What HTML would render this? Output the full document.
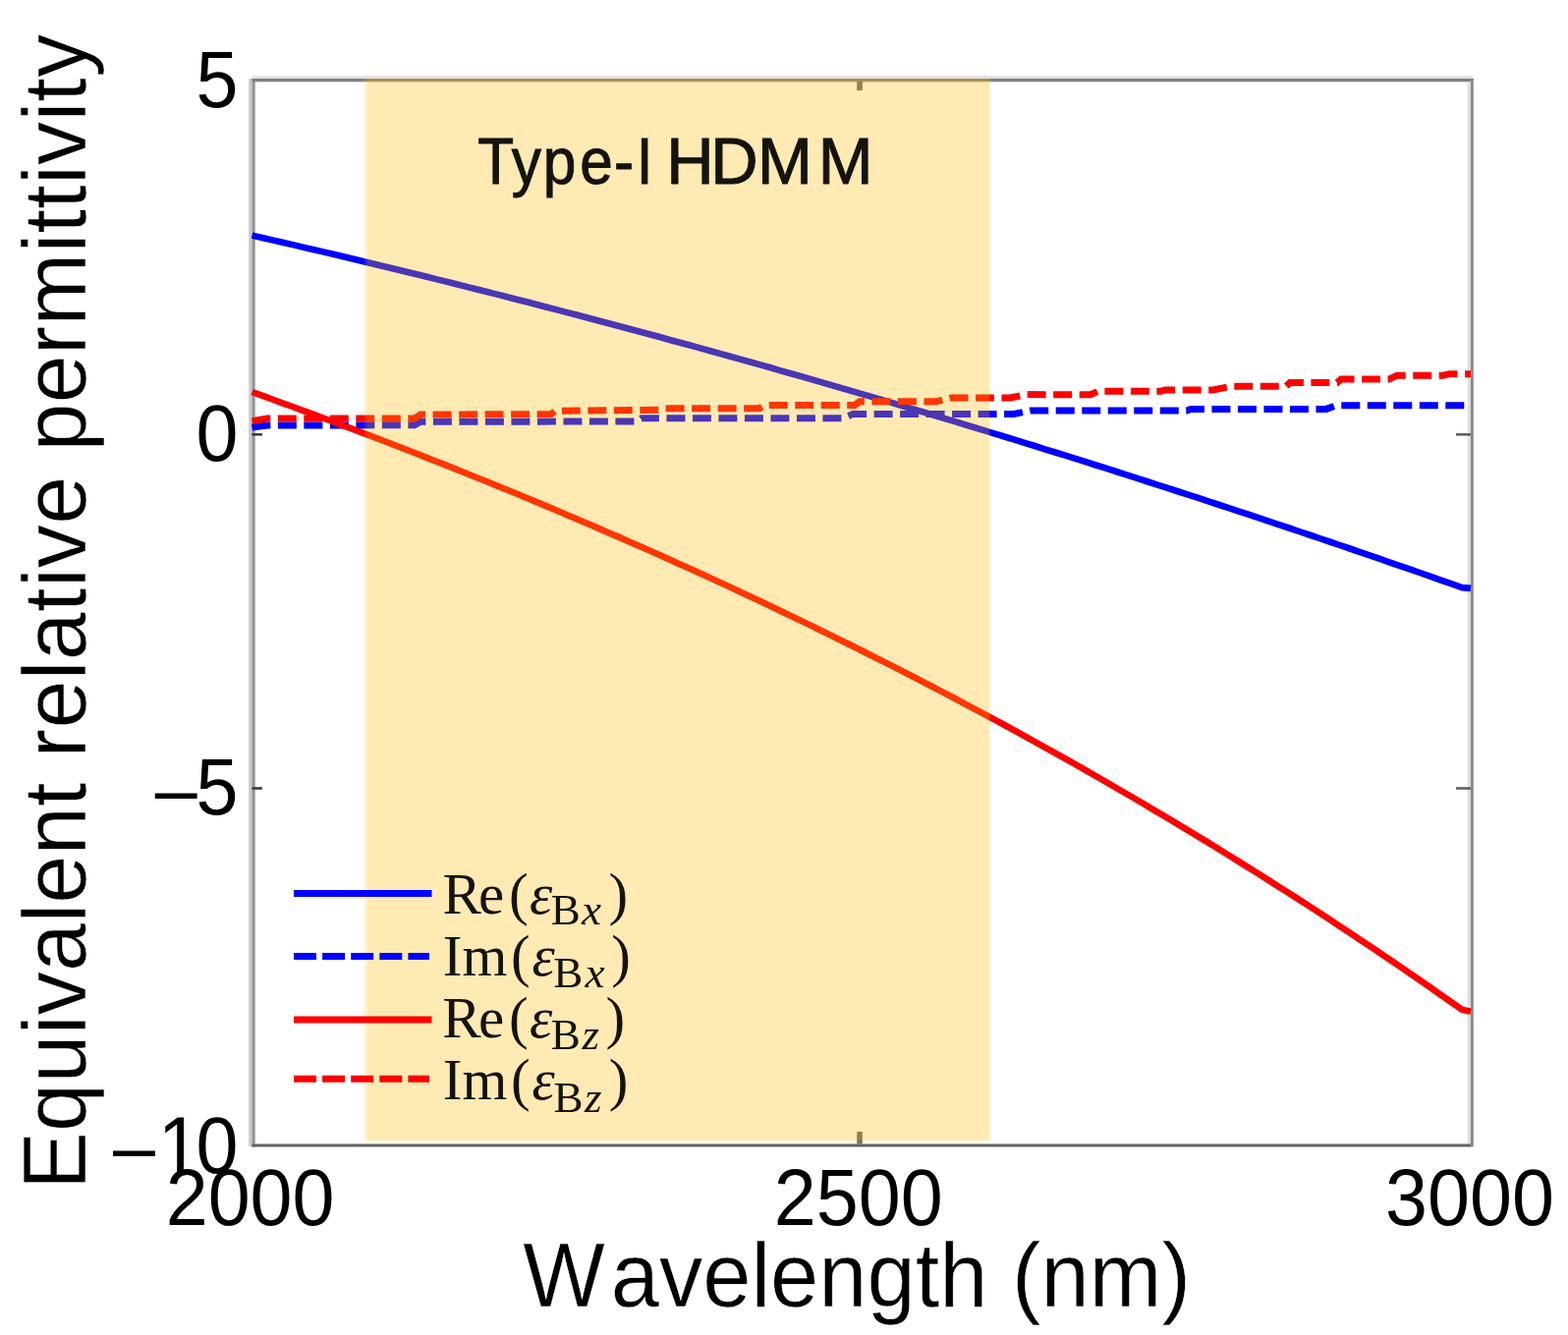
<!DOCTYPE html>
<html><head><meta charset="utf-8"><title>Equivalent relative permittivity</title><style>html,body{margin:0;padding:0;background:#fff;overflow:hidden;}svg{display:block;}</style></head><body>
<svg width="1596" height="1359" viewBox="0 0 1596 1359">
<rect width="1596" height="1359" fill="#fff"/>
<rect x="253.2" y="80" width="3.2" height="1087" fill="#cbcbcb"/>
<rect x="256.4" y="80" width="3.3" height="1087.5" fill="#949494"/>
<rect x="256.4" y="77" width="1243.4" height="3" fill="#e4e4e4"/>
<rect x="256.4" y="80" width="1243.4" height="3.3" fill="#808080"/>
<rect x="1493.8" y="83.3" width="3.2" height="1081.2" fill="#dcdcdc"/>
<rect x="1497" y="80" width="2.8" height="1087.5" fill="#8a8a8a"/>
<rect x="256.4" y="1164.5" width="1240.6" height="3" fill="#626262"/>
<rect x="256.4" y="441.0" width="10.5" height="2.6" fill="#3c3c3c"/>
<rect x="1482" y="441.0" width="15" height="2.6" fill="#606060"/>
<rect x="256.4" y="801.2" width="10.5" height="2.6" fill="#3c3c3c"/>
<rect x="1482" y="801.2" width="15" height="2.6" fill="#606060"/>
<rect x="872.2" y="83" width="5.6" height="9" fill="#6a6a6a"/>
<rect x="872.2" y="1152" width="5.6" height="12.5" fill="#6a6a6a"/>
<path d="M256.5,239.6 L266.8,242.0 L277.2,244.4 L287.5,246.7 L297.9,249.1 L308.2,251.6 L318.6,254.0 L328.9,256.4 L339.3,258.8 L349.6,261.3 L360.0,263.8 L370.3,266.2 L380.7,268.7 L391.0,271.2 L401.4,273.7 L411.7,276.2 L422.1,278.8 L432.4,281.3 L442.8,283.9 L453.1,286.4 L463.5,289.0 L473.8,291.6 L484.2,294.2 L494.5,296.8 L504.9,299.4 L515.2,302.0 L525.6,304.7 L535.9,307.3 L546.3,310.0 L556.6,312.7 L567.0,315.4 L577.3,318.1 L587.7,320.8 L598.0,323.5 L608.4,326.2 L618.7,329.0 L629.1,331.7 L639.4,334.5 L649.8,337.3 L660.1,340.0 L670.4,342.8 L680.8,345.7 L691.1,348.5 L701.5,351.3 L711.8,354.1 L722.2,357.0 L732.5,359.9 L742.9,362.7 L753.2,365.6 L763.6,368.5 L773.9,371.4 L784.3,374.3 L794.6,377.3 L805.0,380.2 L815.3,383.2 L825.7,386.1 L836.0,389.1 L846.4,392.1 L856.7,395.1 L867.1,398.1 L877.4,401.1 L887.8,404.1 L898.1,407.2 L908.5,410.2 L918.8,413.3 L929.2,416.3 L939.5,419.4 L949.9,422.5 L960.2,425.6 L970.6,428.7 L980.9,431.9 L991.3,435.0 L1001.6,438.1 L1012.0,441.3 L1022.3,444.5 L1032.7,447.6 L1043.0,450.8 L1053.4,454.0 L1063.7,457.3 L1074.1,460.5 L1084.4,463.7 L1094.7,466.9 L1105.1,470.2 L1115.4,473.5 L1125.8,476.7 L1136.1,480.0 L1146.5,483.3 L1156.8,486.6 L1167.2,490.0 L1177.5,493.3 L1187.9,496.6 L1198.2,500.0 L1208.6,503.3 L1218.9,506.7 L1229.3,510.1 L1239.6,513.5 L1250.0,516.9 L1260.3,520.3 L1270.7,523.7 L1281.0,527.2 L1291.4,530.6 L1301.7,534.1 L1312.1,537.5 L1322.4,541.0 L1332.8,544.5 L1343.1,548.0 L1353.5,551.5 L1363.8,555.0 L1374.2,558.5 L1384.5,562.1 L1394.9,565.6 L1405.2,569.2 L1415.6,572.8 L1425.9,576.3 L1436.3,579.9 L1446.6,583.5 L1457.0,587.2 L1467.3,590.8 L1477.7,594.4 L1488.0,598.1 L1497.0,598.9" fill="none" stroke="#0000ff" stroke-width="6.6" stroke-linejoin="round"/>
<path d="M256.5,435.0 L272.0,433.0 L422.0,432.8 L428.0,429.3 L648.0,429.0 L653.0,425.7 L858.0,425.7 L868.0,421.5 L1032.0,421.5 L1049.0,418.0 L1208.0,418.0 L1212.0,416.4 L1350.0,416.4 L1360.0,412.8 L1497.0,412.8" fill="none" stroke="#0000ff" stroke-width="7" stroke-dasharray="19 7.5"/>
<path d="M256.5,399.0 L266.8,402.7 L277.2,406.5 L287.5,410.3 L297.9,414.0 L308.2,417.8 L318.6,421.7 L328.9,425.5 L339.3,429.4 L349.6,433.3 L360.0,437.2 L370.3,441.1 L380.7,445.0 L391.0,449.0 L401.4,453.0 L411.7,457.0 L422.1,461.0 L432.4,465.1 L442.8,469.2 L453.1,473.2 L463.5,477.4 L473.8,481.5 L484.2,485.7 L494.5,489.8 L504.9,494.1 L515.2,498.3 L525.6,502.5 L535.9,506.8 L546.3,511.1 L556.6,515.4 L567.0,519.8 L577.3,524.2 L587.7,528.6 L598.0,533.0 L608.4,537.4 L618.7,541.9 L629.1,546.4 L639.4,550.9 L649.8,555.5 L660.1,560.0 L670.4,564.6 L680.8,569.3 L691.1,573.9 L701.5,578.6 L711.8,583.3 L722.2,588.1 L732.5,592.8 L742.9,597.6 L753.2,602.4 L763.6,607.3 L773.9,612.1 L784.3,617.0 L794.6,622.0 L805.0,626.9 L815.3,631.9 L825.7,636.9 L836.0,642.0 L846.4,647.1 L856.7,652.2 L867.1,657.3 L877.4,662.5 L887.8,667.7 L898.1,672.9 L908.5,678.1 L918.8,683.4 L929.2,688.7 L939.5,694.1 L949.9,699.5 L960.2,704.9 L970.6,710.3 L980.9,715.8 L991.3,721.3 L1001.6,726.9 L1012.0,732.4 L1022.3,738.0 L1032.7,743.7 L1043.0,749.4 L1053.4,755.1 L1063.7,760.8 L1074.1,766.6 L1084.4,772.4 L1094.7,778.2 L1105.1,784.1 L1115.4,790.0 L1125.8,796.0 L1136.1,802.0 L1146.5,808.0 L1156.8,814.0 L1167.2,820.1 L1177.5,826.3 L1187.9,832.4 L1198.2,838.6 L1208.6,844.9 L1218.9,851.1 L1229.3,857.4 L1239.6,863.8 L1250.0,870.2 L1260.3,876.6 L1270.7,883.1 L1281.0,889.5 L1291.4,896.1 L1301.7,902.7 L1312.1,909.3 L1322.4,915.9 L1332.8,922.6 L1343.1,929.3 L1353.5,936.1 L1363.8,942.9 L1374.2,949.8 L1384.5,956.7 L1394.9,963.6 L1405.2,970.5 L1415.6,977.6 L1425.9,984.6 L1436.3,991.7 L1446.6,998.8 L1457.0,1006.0 L1467.3,1013.2 L1477.7,1020.5 L1488.0,1027.8 L1497.0,1029.8" fill="none" stroke="#ff0000" stroke-width="6.6" stroke-linejoin="round"/>
<path d="M256.5,428.6 L272.0,426.0 L422.0,426.0 L428.0,422.0 L561.0,421.6 L565.0,418.2 L671.0,417.2 L676.0,415.7 L773.0,415.7 L778.0,412.6 L870.0,412.6 L875.0,408.8 L953.0,408.8 L968.0,405.0 L1028.0,405.0 L1045.0,401.6 L1110.0,401.8 L1118.0,398.2 L1182.0,398.2 L1186.0,397.0 L1235.0,397.0 L1253.0,393.2 L1309.0,393.2 L1313.0,389.6 L1361.0,389.6 L1365.0,386.1 L1414.0,386.1 L1422.0,382.2 L1469.0,382.2 L1475.0,380.7 L1497.0,380.7" fill="none" stroke="#ff0000" stroke-width="7" stroke-dasharray="19 7.5"/>
<rect x="373.5" y="80" width="633.5" height="1081" fill="rgb(255,184,0)" fill-opacity="0.294"/>
<rect x="370.5" y="80" width="3" height="1081" fill="rgb(255,184,0)" fill-opacity="0.16"/>
<rect x="370.5" y="1161" width="636.5" height="3" fill="rgb(255,200,0)" fill-opacity="0.08"/>
<rect x="1007" y="80" width="2" height="1081" fill="rgb(255,200,0)" fill-opacity="0.06"/>
<text transform="translate(242.5,109) scale(0.942,1)" font-family='"Liberation Sans", Arial, sans-serif' font-size="82" text-anchor="end" fill="#000">5</text>
<text transform="translate(242.5,469) scale(0.942,1)" font-family='"Liberation Sans", Arial, sans-serif' font-size="82" text-anchor="end" fill="#000">0</text>
<text transform="scale(0.942,1)" x="167.41 211.84" y="830.6 829" font-family='"Liberation Sans", Arial, sans-serif' font-size="82" fill="#000">–5</text>
<clipPath id="c1"><rect x="0" y="1100" width="2000" height="87.33"/><rect x="191.23" y="1100" width="7.18" height="101"/><rect x="212.74" y="1100" width="2000" height="101"/></clipPath>
<g transform="scale(0.942,1)"><text clip-path="url(#c1)" x="122.08 170.53 211.84" y="1195.5 1194.5 1194.5" font-family='"Liberation Sans", Arial, sans-serif' font-size="82" fill="#000">–10</text></g>
<text transform="translate(254.6,1246.5) scale(0.942,1)" font-family='"Liberation Sans", Arial, sans-serif' font-size="82" text-anchor="middle" fill="#000">2000</text>
<text transform="translate(873.7,1246.5) scale(0.942,1)" font-family='"Liberation Sans", Arial, sans-serif' font-size="82" text-anchor="middle" fill="#000">2500</text>
<text transform="translate(1496,1246.5) scale(0.942,1)" font-family='"Liberation Sans", Arial, sans-serif' font-size="82" text-anchor="middle" fill="#000">3000</text>
<text transform="translate(532.3,1330) scale(0.962,1)" dx="0 9.60" font-family='"Liberation Sans", Arial, sans-serif' font-size="92" fill="#000" stroke="#fff" stroke-width="0.5">Wavelength (nm)</text>
<text transform="translate(87.4,1211) rotate(-90) scale(0.978,1)" font-family='"Liberation Sans", Arial, sans-serif' font-size="90" fill="#000" stroke="#fff" stroke-width="0.5" letter-spacing="0.4">Equivalent relative permittivity</text>
<text transform="scale(0.9,1)" x="540.40 578.58 614.13 655.74 694.53 719.70" y="187.4" font-family='"Liberation Sans", Arial, sans-serif' font-size="67" fill="#15130e" stroke="#15130e" stroke-width="1.0">Type-I</text>
<text transform="scale(1.0,1)" x="678.20 723.22 770.96 832.71" y="187.4" font-family='"Liberation Sans", Arial, sans-serif' font-size="67" fill="#15130e" stroke="#15130e" stroke-width="1.0">HDMM</text>
<line x1="299" y1="909.5" x2="439.5" y2="909.5" stroke="#0000ff" stroke-width="7"/>
<line x1="299" y1="973.6" x2="437" y2="973.6" stroke="#0000ff" stroke-width="7" stroke-dasharray="23 6.1"/>
<line x1="299" y1="1037.9" x2="439.5" y2="1037.9" stroke="#ff0000" stroke-width="7"/>
<line x1="299" y1="1098.3" x2="437" y2="1098.3" stroke="#ff0000" stroke-width="7" stroke-dasharray="23 6.1"/>
<text font-family='"Liberation Serif", "Times New Roman", serif' font-size="59" fill="#15130e"><tspan x="450.50 487.12 518.12" y="929.5">Re(</tspan><tspan x="538.96" font-style="italic">ε</tspan><tspan x="560.73" y="941.4" font-size="45">B</tspan><tspan x="591.94" font-size="45" font-style="italic">x</tspan><tspan x="619.39" y="929.5">)</tspan></text>
<text font-family='"Liberation Serif", "Times New Roman", serif' font-size="59" fill="#15130e"><tspan x="450.84 470.47 520.02" y="992.6">Im(</tspan><tspan x="541.41" font-style="italic">ε</tspan><tspan x="563.18" y="1004.5" font-size="45">B</tspan><tspan x="595.54" font-size="45" font-style="italic">x</tspan><tspan x="622.24" y="992.6">)</tspan></text>
<text font-family='"Liberation Serif", "Times New Roman", serif' font-size="59" fill="#15130e"><tspan x="450.15 487.12 518.12" y="1055.7">Re(</tspan><tspan x="538.96" font-style="italic">ε</tspan><tspan x="560.73" y="1067.6" font-size="45">B</tspan><tspan x="592.49" font-size="45" font-style="italic">z</tspan><tspan x="616.54" y="1055.7">)</tspan></text>
<text font-family='"Liberation Serif", "Times New Roman", serif' font-size="59" fill="#15130e"><tspan x="450.84 470.47 520.02" y="1118.9">Im(</tspan><tspan x="541.41" font-style="italic">ε</tspan><tspan x="563.53" y="1131.5" font-size="45">B</tspan><tspan x="594.99" font-size="45" font-style="italic">z</tspan><tspan x="619.69" y="1118.9">)</tspan></text>
</svg>
</body></html>
